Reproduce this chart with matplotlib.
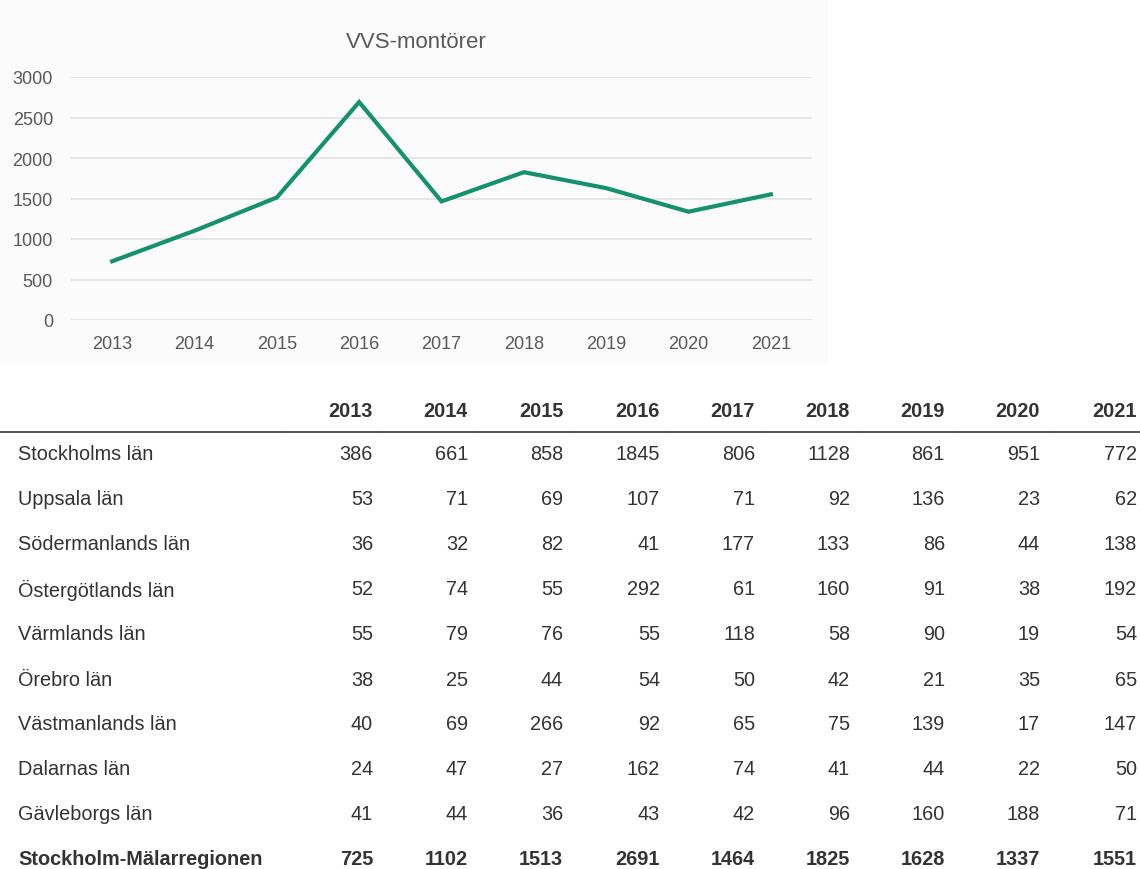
import matplotlib
matplotlib.use('Agg')
import matplotlib.pyplot as plt
from matplotlib.patches import Rectangle
from matplotlib.lines import Line2D

plt.rcParams['font.family'] = ['Liberation Sans', 'DejaVu Sans']

# ---- data ----
years = ['2013', '2014', '2015', '2016', '2017', '2018', '2019', '2020', '2021']
regions = ['Stockholms län', 'Uppsala län', 'Södermanlands län', 'Östergötlands län',
           'Värmlands län', 'Örebro län', 'Västmanlands län', 'Dalarnas län',
           'Gävleborgs län']
stockholm = [386, 661, 858, 1845, 806, 1128, 861, 951, 772]
uppsala = [53, 71, 69, 107, 71, 92, 136, 23, 62]
sodermanland = [36, 32, 82, 41, 177, 133, 86, 44, 138]
ostergotland = [52, 74, 55, 292, 61, 160, 91, 38, 192]
varmland = [55, 79, 76, 55, 118, 58, 90, 19, 54]
orebro = [38, 25, 44, 54, 50, 42, 21, 35, 65]
vastmanland = [40, 69, 266, 92, 65, 75, 139, 17, 147]
dalarna = [24, 47, 27, 162, 74, 41, 44, 22, 50]
gavleborg = [41, 44, 36, 43, 42, 96, 160, 188, 71]
total_label = 'Stockholm-Mälarregionen'
total = [725, 1102, 1513, 2691, 1464, 1825, 1628, 1337, 1551]

rows = [stockholm, uppsala, sodermanland, ostergotland, varmland,
        orebro, vastmanland, dalarna, gavleborg]

W, H = 1140, 870
fig = plt.figure(figsize=(W / 100, H / 100), dpi=100)


def fx(px):
    return px / W


def fy(py):
    return 1 - py / H


# light panel behind the chart
fig.patches.append(Rectangle((0, fy(365)), fx(828), 365 / H, transform=fig.transFigure,
                             facecolor='#fbfbfb', edgecolor='none', zorder=-5))

# ---- line chart ----
ax = fig.add_axes([fx(71), fy(321), fx(812 - 71), (321 - 78) / H])
ax.set_zorder(2)
ax.patch.set_visible(False)
x = range(len(years))
ax.plot(x, total, color='#15916e', linewidth=3.0, solid_joinstyle='miter', zorder=3)
ax.set_xlim(-0.5, len(years) - 0.5)
ax.set_ylim(0, 3000)
ax.set_yticks(range(0, 3001, 500))
ax.set_xticks(list(x))
ax.set_xticklabels(years)
ax.yaxis.grid(True, color='#e3e3e3', linewidth=1.3)
ax.set_axisbelow(True)
for s in ax.spines.values():
    s.set_visible(False)
ax.tick_params(length=0, labelsize=13, labelcolor='#595959')
ax.tick_params(axis='y', pad=13)
ax.tick_params(axis='x', pad=11)

fig.text(fx(416), fy(42), 'VVS-montörer', ha='center', va='center',
         fontsize=16, color='#595959')

# ---- table ----
col_right = [373, 468, 563, 660, 755, 850, 945, 1040, 1137]
label_x = 18
header_y = 412
rule_y = 433
first_row_y = 455
row_step = 45
txt_color = '#333333'
fs = 14.3

for xr, yr in zip(col_right, years):
    fig.text(fx(xr), fy(header_y), yr, ha='right', va='center', fontsize=fs,
             fontweight='bold', color=txt_color)

# header rule, split per column
bounds = [0, 288, 383, 478, 573, 668, 765, 860, 955, 1050, 1140]
for a, b in zip(bounds[:-1], bounds[1:]):
    fig.lines.append(Line2D([fx(a), fx(b - 1)], [fy(rule_y), fy(rule_y)],
                            transform=fig.transFigure, color='#555555', linewidth=1.4))

for i, (name, vals) in enumerate(zip(regions + [total_label], rows + [total])):
    yy = fy(first_row_y + i * row_step)
    weight = 'bold' if name == total_label else 'normal'
    fig.text(fx(label_x), yy, name, ha='left', va='center', fontsize=fs,
             fontweight=weight, color=txt_color)
    for xr, v in zip(col_right, vals):
        fig.text(fx(xr), yy, str(v), ha='right', va='center', fontsize=fs,
                 fontweight=weight, color=txt_color)

fig.savefig('out.png', dpi=100, facecolor='white')
